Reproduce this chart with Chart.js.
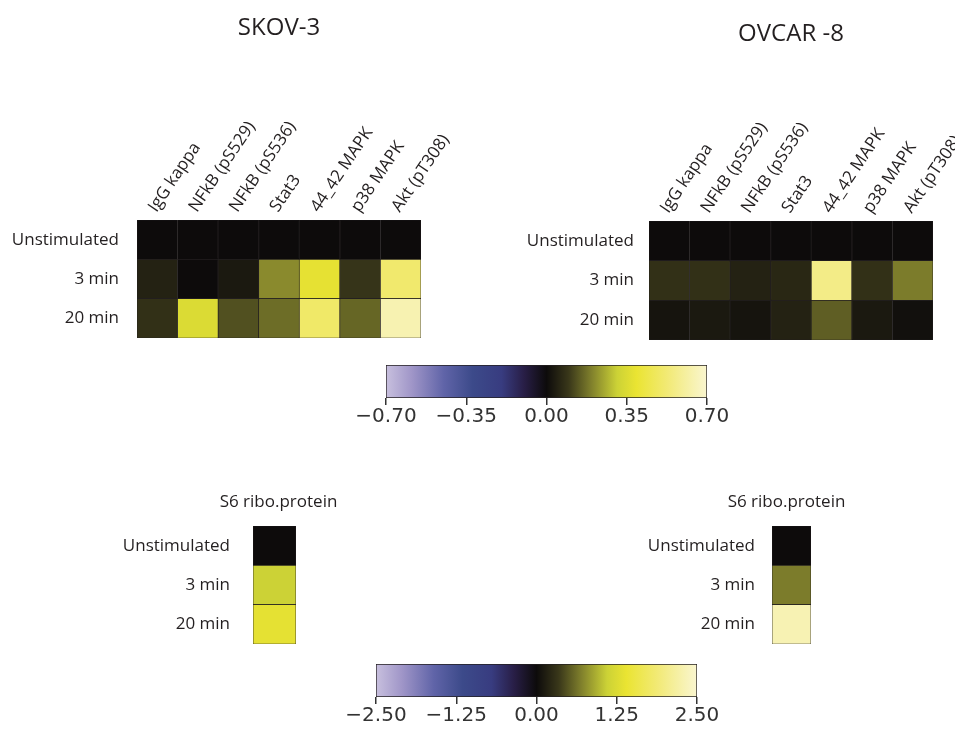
<!DOCTYPE html>
<html>
<head>
<meta charset="utf-8">
<title>Phospho-protein response heatmaps</title>
<script src="https://cdn.jsdelivr.net/npm/chart.js@4.4.1/dist/chart.umd.min.js"></script>
<style>
  html,body{margin:0;padding:0;background:#fff;overflow:hidden}
  #wrap{position:relative;width:955px;height:731px;overflow:hidden}
  #wrap canvas{position:absolute}
</style>
</head>
<body>
<div id="wrap">
  <canvas id="skov-main" width="450" height="350" style="left:0;top:0"></canvas>
  <canvas id="ovcar-main" width="475" height="352" style="left:480px;top:0"></canvas>
  <canvas id="bar-main" width="420" height="85" style="left:330px;top:350px"></canvas>
  <canvas id="skov-s6" width="270" height="180" style="left:90px;top:480px"></canvas>
  <canvas id="ovcar-s6" width="240" height="180" style="left:620px;top:480px"></canvas>
  <canvas id="bar-s6" width="420" height="81" style="left:320px;top:650px"></canvas>
</div>
<script>
const proteins = ['IgG kappa','NFkB (pS529)','NFkB (pS536)','Stat3','44_42 MAPK','p38 MAPK','Akt (pT308)'];
const conditions = ['Unstimulated','3 min','20 min'];
const s6Name = ['S6 ribo.protein'];

// SKOV-3, one value per protein
const skovUnstim = [0, 0, 0, 0, 0, 0, 0];
const skov3min   = [0.05, 0.0, 0.03, 0.21, 0.38, 0.09, 0.51];
const skov20min  = [0.08, 0.35, 0.13, 0.17, 0.50, 0.16, 0.64];

// OVCAR-8
const ovcarUnstim = [0, 0, 0, 0, 0, 0, 0];
const ovcar3min   = [0.08, 0.08, 0.05, 0.06, 0.56, 0.08, 0.19];
const ovcar20min  = [0.02, 0.03, 0.02, 0.05, 0.15, 0.03, 0.01];

// S6 ribosomal protein: Unstimulated, 3 min, 20 min
const skovS6  = [0, 1.1, 1.35];
const ovcarS6 = [0, 0.68, 2.3];

const mainTicks = [-0.70, -0.35, 0, 0.35, 0.70];
const s6Ticks   = [-2.50, -1.25, 0, 1.25, 2.50];

const INK = '#231f20';
const LABEL_FONT = { family: "'Open Sans', sans-serif", size: 17 };

// lavender -> blue -> black -> yellow -> cream
const CMAP = [
  [0.00, [200, 192, 222]],
  [0.08, [160, 150, 200]],
  [0.18, [96, 100, 168]],
  [0.27, [60, 74, 138]],
  [0.36, [56, 60, 128]],
  [0.43, [40, 30, 70]],
  [0.50, [13, 11, 11]],
  [0.57, [58, 56, 26]],
  [0.64, [128, 128, 44]],
  [0.72, [204, 210, 54]],
  [0.78, [234, 228, 50]],
  [0.88, [242, 234, 120]],
  [1.00, [250, 246, 208]]
];

function cmapColor(t){
  t = Math.max(0, Math.min(1, t));
  for(let i = 1; i < CMAP.length; i++){
    if(t <= CMAP[i][0]){
      const [t0, c0] = CMAP[i-1], [t1, c1] = CMAP[i];
      const f = (t - t0) / (t1 - t0);
      return 'rgb(' + c0.map((c,k) => Math.round(c + (c1[k] - c) * f)).join(',') + ')';
    }
  }
  return 'rgb(' + CMAP[CMAP.length-1][1].join(',') + ')';
}

const fmtTick = v => (v < 0 ? '\u2212' : '') + Math.abs(v).toFixed(2);

// rows are given top-down; each cell is a unit bar stacked per column
function heatmap(id, cols, rows, vmax, o){
  const datasets = rows.map((vals, r) => ({
    label: conditions[r],
    data: vals.map(() => 1),
    backgroundColor: vals.map(v => cmapColor(0.5 + v / (2 * vmax))),
    borderColor: INK,
    borderWidth: 0.7,
    borderSkipped: false,
    barPercentage: 1,
    categoryPercentage: 1
  })).reverse();

  new Chart(document.getElementById(id), {
    type: 'bar',
    data: { labels: cols, datasets },
    options: {
      responsive: false,
      animation: false,
      layout: { padding: o.padding },
      plugins: {
        legend: { display: false },
        tooltip: { enabled: false },
        title: o.title ? {
          display: true, text: o.title, fullSize: false, color: INK,
          font: { family: "'Open Sans', sans-serif", size: 24, weight: 'normal' },
          padding: o.titlePad
        } : { display: false }
      },
      scales: {
        x: {
          type: 'category',
          position: 'top',
          stacked: true,
          grid: { display: false },
          border: { display: false },
          afterFit: s => { s.height = o.xHeight; s.paddingLeft = 0; s.paddingRight = 0; },
          ticks: {
            autoSkip: false, minRotation: o.rotation, maxRotation: o.rotation,
            padding: o.colPad, labelOffset: o.labelOffset,
            color: INK, font: LABEL_FONT
          }
        },
        y: {
          type: 'linear',
          stacked: true,
          min: 0, max: rows.length,
          grid: { display: false, drawTicks: false },
          border: { display: false },
          afterFit: s => { s.width = o.yWidth; s.paddingTop = 0; s.paddingBottom = 0; },
          afterBuildTicks: a => { a.ticks = rows.map((_, i) => ({ value: i + 0.5 })); },
          ticks: {
            padding: o.rowPad, color: INK, font: LABEL_FONT,
            callback: v => conditions[Math.round(rows.length - 0.5 - v)]
          }
        }
      }
    }
  });
}

function colorbar(id, ticks, o){
  const lo = ticks[0], hi = ticks[ticks.length - 1];
  new Chart(document.getElementById(id), {
    type: 'bar',
    data: {
      labels: ['scale'],
      datasets: [{
        data: [[lo, hi]],
        backgroundColor: ctx => {
          const { ctx: c, chartArea } = ctx.chart;
          if(!chartArea) return null;
          const g = c.createLinearGradient(chartArea.left, 0, chartArea.right, 0);
          CMAP.forEach(([t, rgb]) => g.addColorStop(t, 'rgb(' + rgb.join(',') + ')'));
          return g;
        },
        borderColor: INK,
        borderWidth: 1,
        borderSkipped: false,
        barPercentage: 1,
        categoryPercentage: 1
      }]
    },
    options: {
      indexAxis: 'y',
      responsive: false,
      animation: false,
      layout: { padding: o.padding },
      plugins: { legend: { display: false }, tooltip: { enabled: false } },
      scales: {
        x: {
          type: 'linear', min: lo, max: hi,
          afterBuildTicks: a => { a.ticks = ticks.map(v => ({ value: v })); },
          afterFit: s => { s.height = o.xHeight; s.paddingLeft = 0; s.paddingRight = 0; },
          grid: { drawOnChartArea: false, tickLength: 7, color: '#333', lineWidth: 1.5 },
          border: { display: false },
          ticks: {
            maxRotation: 0, padding: 0, color: '#333',
            font: { family: "'DejaVu Sans', sans-serif", size: 20 },
            callback: v => fmtTick(v)
          }
        },
        y: { display: false }
      }
    }
  });
}

heatmap('skov-main', proteins, [skovUnstim, skov3min, skov20min], 0.7, {
  title: 'SKOV-3', titlePad: { top: 14, bottom: 10 },
  padding: { left: 0, right: 29, top: 0, bottom: 12 },
  yWidth: 137, xHeight: 167.2, rotation: 56, colPad: -4, labelOffset: 12, rowPad: 18
});

heatmap('ovcar-main', proteins, [ovcarUnstim, ovcar3min, ovcar20min], 0.7, {
  title: 'OVCAR -8', titlePad: { top: 20, bottom: 10 },
  padding: { left: 0, right: 22, top: 0, bottom: 12 },
  yWidth: 169, xHeight: 162.2, rotation: 56, colPad: -4, labelOffset: 12, rowPad: 15
});

heatmap('skov-s6', s6Name, skovS6.map(v => [v]), 2.5, {
  padding: { left: 0, right: 64, top: 0, bottom: 16 },
  yWidth: 163, xHeight: 46, rotation: 0, colPad: 6, labelOffset: 4, rowPad: 23
});

heatmap('ovcar-s6', s6Name, ovcarS6.map(v => [v]), 2.5, {
  padding: { left: 0, right: 49, top: 0, bottom: 16 },
  yWidth: 152, xHeight: 46, rotation: 0, colPad: 6, labelOffset: -5, rowPad: 17
});

colorbar('bar-main', mainTicks, { padding: { left: 56, right: 43, top: 15, bottom: 0 }, xHeight: 37 });
colorbar('bar-s6', s6Ticks, { padding: { left: 56, right: 43, top: 14, bottom: 0 }, xHeight: 34 });
</script>
</body>
</html>
